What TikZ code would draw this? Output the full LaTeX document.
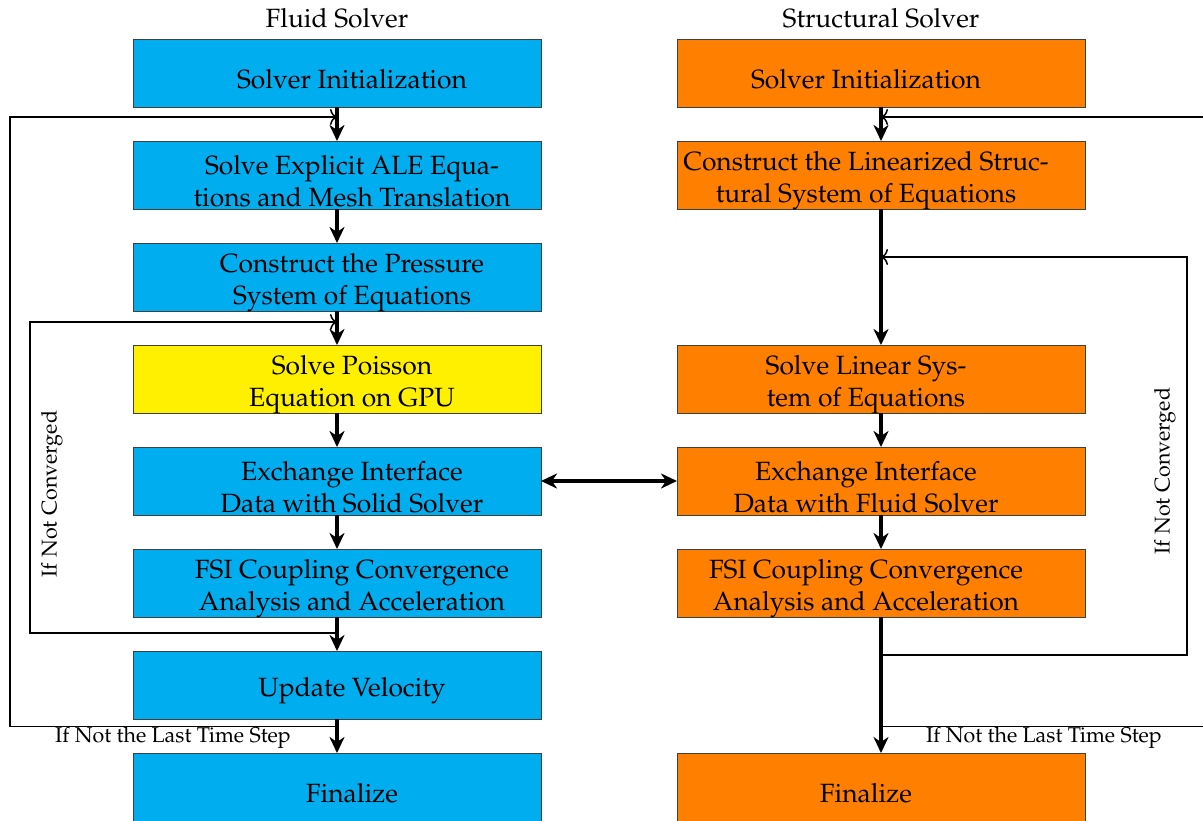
\documentclass[tikz,border=0pt]{standalone}
\usepackage[T1]{fontenc}
\usepackage{mathpazo}
\usetikzlibrary{positioning,arrows.meta}

\definecolor{fluidblue}{RGB}{0,174,239}
\definecolor{structorange}{RGB}{255,128,0}
\definecolor{gpuyellow}{RGB}{255,240,0}

\tikzset{
  txt/.style={align=center, yshift=-3pt, font=\fontsize{13.2}{16}\selectfont},
  block/.style={draw=black!75, line width=0.5pt, minimum width=204pt, minimum height=34pt, inner sep=0pt, outer sep=0pt},
  fluidbox/.style={block, fill=fluidblue, label={[txt, xshift=7.5pt]center:#1}},
  gpubox/.style={block, fill=gpuyellow, label={[txt, xshift=7.5pt]center:#1}},
  structbox/.style={block, fill=structorange, label={[txt, xshift=-7.5pt]center:#1}},
  head/.style={inner sep=0pt, font=\fontsize{13.2}{16}\selectfont},
  flow/.style={->, line width=1.8pt},
  loopback/.style={-{To[length=3.5pt,width=8pt]}, line width=0.75pt},
  note/.style={inner sep=0pt, font=\fontsize{10.7}{12}\selectfont},
}

\begin{document}
\begin{tikzpicture}[x=0.5pt, y=-0.5pt, >={Stealth[length=8pt,width=7.5pt,inset=2.5pt]}]
\useasboundingbox (0,0) rectangle (1203,820);
\clip (0,0) rectangle (1203,820);

% fluid side
\node[fluidbox={Solver Initialization}] (f1) at (337,73) {};
\node[fluidbox={Solve Explicit ALE Equa-\\tions and Mesh Translation}, below=17pt of f1] (f2) {};
\node[fluidbox={Construct the Pressure\\System of Equations}, below=17pt of f2] (f3) {};
\node[gpubox={Solve Poisson\\Equation on GPU}, below=17pt of f3] (f4) {};
\node[fluidbox={Exchange Interface\\Data with Solid Solver}, below=17pt of f4] (f5) {};
\node[fluidbox={FSI Coupling Convergence\\Analysis and Acceleration}, below=17pt of f5] (f6) {};
\node[fluidbox={Update Velocity}, below=17pt of f6] (f7) {};
\node[fluidbox={Finalize}, below=17pt of f7] (f8) {};
\node[head, above=5.5pt of f1] (fh) {Fluid Solver};

% structural side
\node[structbox={Solver Initialization}] (s1) at (881,73) {};
\node[structbox={Construct the Linearized Struc-\\tural System of Equations}, below=17pt of s1] (s2) {};
\node[structbox={Solve Linear Sys-\\tem of Equations}, below=68pt of s2] (s3) {};
\node[structbox={Exchange Interface\\Data with Fluid Solver}, below=17pt of s3] (s4) {};
\node[structbox={FSI Coupling Convergence\\Analysis and Acceleration}, below=17pt of s4] (s5) {};
\node[structbox={Finalize}, below=68pt of s5] (s6) {};
\node[head, above=5.5pt of s1] (sh) {Structural Solver};

% main flow
\foreach \a/\b in {f1/f2,f2/f3,f3/f4,f4/f5,f5/f6,f6/f7,f7/f8,s1/s2,s2/s3,s3/s4,s4/s5,s5/s6}
  \draw[flow] (\a) -- (\b);
\draw[flow, <->] (f5) -- (s4);

% loops
\coordinate (ftime) at (10,117);
\coordinate (fconv) at (30,322);
\coordinate (stime) at (1215,117);
\coordinate (sconv) at (1187,257);
\draw[loopback] ([yshift=-3.8pt]f7.south) -| (ftime) -- ([yshift=-5pt]f1.south);
\draw[loopback] ([yshift=-8pt]f6.south) -| (fconv) -- ([yshift=-5.5pt]f3.south);
\draw[loopback] ([yshift=13.2pt]s6.north) -| (stime) -- ([yshift=-5pt]s1.south);
\draw[loopback] ([yshift=-19pt]s5.south) -| (sconv) -- ([yshift=-24pt]s2.south);

\node[note] (flast) at (173,738) {If Not the Last Time Step};
\node[note] (slast) at (1044,738) {If Not the Last Time Step};
\node[note, rotate=90] (fnot) at (52,494) {If Not Converged};
\node[note, rotate=90] (snot) at (1165,471) {If Not Converged};
\end{tikzpicture}
\end{document}
